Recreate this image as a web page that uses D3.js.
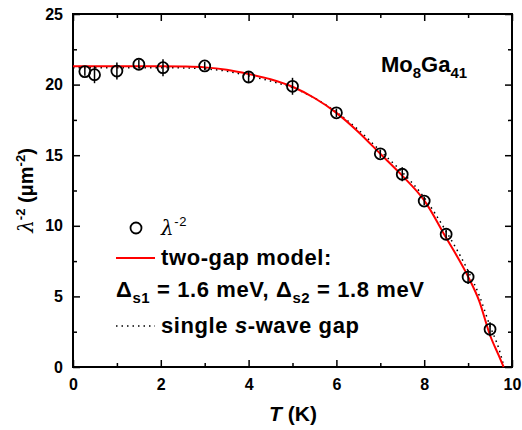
<!DOCTYPE html>
<html>
<head>
<meta charset="utf-8">
<script src="https://cdn.jsdelivr.net/npm/d3@7"></script>
<style>
  body { margin: 0; background: #fff; }
  text { font-family: Arial, "Liberation Sans", sans-serif; font-weight: bold; }
</style>
</head>
<body>
<div id="chart"></div>
<script>
// measured data
const tempK = [0.27, 0.49, 1.0, 1.5, 2.05, 3.0, 4.0, 5.0, 6.0, 7.0, 7.5, 8.0, 8.5, 9.0, 9.5];
const lambdaInv2 = [20.92, 20.7, 20.96, 21.44, 21.2, 21.32, 20.54, 19.88, 18.0, 15.1, 13.65, 11.75, 9.4, 6.37, 2.67];
const errBars = [0.3, 0.6, 0.6, 0.3, 0.6, 0.3, 0.4, 0.6, 0.3, 0.3, 0.5, 0.3, 0.3, 0.5, 0.5];

// two-gap model curve
const twoGapT = [0, 0.5, 1, 1.5, 2, 2.5, 3, 3.5, 4, 4.5, 5, 5.5, 6, 6.5, 7, 7.5, 8, 8.5, 9, 9.25, 9.5, 9.7, 9.81];
const twoGapY = [21.3, 21.3, 21.3, 21.3, 21.3, 21.28, 21.22, 21.05, 20.75, 20.38, 19.85, 19.05, 18.0, 16.65, 15.1, 13.55, 11.8, 9.15, 6.4, 4.7, 2.25, 0.8, 0];

// single s-wave gap curve
const singleT = [0, 0.5, 1, 1.5, 2, 2.5, 3, 3.5, 4, 4.5, 5, 5.5, 6, 6.5, 7, 7.5, 8, 8.5, 9, 9.25, 9.5, 9.7, 9.82];
const singleY = [21.2, 21.2, 21.2, 21.2, 21.2, 21.18, 21.12, 20.95, 20.62, 20.25, 19.78, 19.05, 18.05, 16.8, 15.3, 13.8, 12.0, 9.6, 6.8, 5.1, 2.9, 1.3, 0];

const xTicks = [0, 2, 4, 6, 8, 10];
const yTicks = [0, 5, 10, 15, 20, 25];

const width = 522, height = 430;
const margin = { top: 14, right: 10, bottom: 63, left: 73 };
const w = width - margin.left - margin.right;
const h = height - margin.top - margin.bottom;

const svg = d3.select('#chart').append('svg')
    .attr('width', width)
    .attr('height', height);

const g = svg.append('g')
    .attr('transform', `translate(${margin.left},${margin.top})`);

const x = d3.scaleLinear().domain([0, 10]).range([0, w]);
const y = d3.scaleLinear().domain([0, 25]).range([h, 0]);

const minorX = d3.range(1, 10, 2);
const minorY = d3.range(2.5, 25, 5);

// axes with inward ticks
function styleAxis(sel) {
    sel.select('.domain').remove();
    sel.selectAll('line').attr('stroke', '#000').attr('stroke-width', 1.5);
    sel.selectAll('text').style('font-size', '16px').attr('fill', '#000');
}

g.append('g').attr('transform', `translate(0,${h})`)
    .call(d3.axisBottom(x).tickValues(xTicks).tickSize(-7).tickPadding(12).tickFormat(d3.format('d')))
    .call(styleAxis);
g.append('g').attr('transform', `translate(0,${h})`)
    .call(d3.axisBottom(x).tickValues(minorX).tickSize(-4).tickFormat(''))
    .call(styleAxis);
g.append('g')
    .call(d3.axisTop(x).tickValues(xTicks).tickSize(-7).tickFormat(''))
    .call(styleAxis);
g.append('g')
    .call(d3.axisTop(x).tickValues(minorX).tickSize(-4).tickFormat(''))
    .call(styleAxis);
g.append('g')
    .call(d3.axisLeft(y).tickValues(yTicks).tickSize(-7).tickPadding(10).tickFormat(d3.format('d')))
    .call(styleAxis);
g.append('g')
    .call(d3.axisLeft(y).tickValues(minorY).tickSize(-4).tickFormat(''))
    .call(styleAxis);
g.append('g').attr('transform', `translate(${w},0)`)
    .call(d3.axisRight(y).tickValues(yTicks).tickSize(-7).tickFormat(''))
    .call(styleAxis);
g.append('g').attr('transform', `translate(${w},0)`)
    .call(d3.axisRight(y).tickValues(minorY).tickSize(-4).tickFormat(''))
    .call(styleAxis);

g.append('rect')
    .attr('width', w).attr('height', h)
    .attr('fill', 'none').attr('stroke', '#000').attr('stroke-width', 2);

// curves
const line = d3.line().x(d => x(d[0])).y(d => y(d[1])).curve(d3.curveMonotoneX);

g.append('path')
    .datum(singleT.map((t, i) => [t, singleY[i]]))
    .attr('d', line)
    .attr('fill', 'none').attr('stroke', '#000').attr('stroke-width', 1.5)
    .attr('stroke-dasharray', '1.5,4');

g.append('path')
    .datum(twoGapT.map((t, i) => [t, twoGapY[i]]))
    .attr('d', line)
    .attr('fill', 'none').attr('stroke', '#ff0000').attr('stroke-width', 2);

// data points with error bars
const pts = tempK.map((t, i) => ({ t, v: lambdaInv2[i], e: errBars[i] }));

g.selectAll('.err').data(pts).enter().append('line')
    .attr('x1', d => x(d.t)).attr('x2', d => x(d.t))
    .attr('y1', d => y(d.v - d.e)).attr('y2', d => y(d.v + d.e))
    .attr('stroke', '#000').attr('stroke-width', 1.5);

g.selectAll('.pt').data(pts).enter().append('circle')
    .attr('cx', d => x(d.t)).attr('cy', d => y(d.v))
    .attr('r', 5.5)
    .attr('fill', 'none').attr('stroke', '#000').attr('stroke-width', 1.8);

// axis titles
svg.append('text')
    .attr('x', 293).attr('y', 421)
    .attr('text-anchor', 'middle')
    .style('font-size', '21px')
    .html('<tspan font-style="italic">T</tspan> (K)');

svg.append('text')
    .attr('transform', `translate(33,${margin.top + h / 2}) rotate(-90)`)
    .attr('text-anchor', 'middle')
    .style('font-size', '20px')
    .html('<tspan font-style="italic" font-weight="normal" font-family="DejaVu Serif">λ</tspan><tspan dy="-8" font-size="13px">-2</tspan><tspan dy="8"> (μm</tspan><tspan dy="-8" font-size="13px">-2</tspan><tspan dy="8">)</tspan>');

// compound label
svg.append('text')
    .attr('x', 381).attr('y', 72)
    .style('font-size', '22px')
    .html('Mo<tspan dy="6" font-size="15px">8</tspan><tspan dy="-6">Ga</tspan><tspan dy="6" font-size="15px">41</tspan>');

// legend
const leg = svg.append('g').style('letter-spacing', '0.6px');
leg.append('circle').attr('cx', 136).attr('cy', 228).attr('r', 5.5)
    .attr('fill', 'none').attr('stroke', '#000').attr('stroke-width', 1.8);
leg.append('text').attr('x', 161).attr('y', 235).style('font-size', '20px')
    .html('<tspan font-style="italic" font-weight="normal" font-family="DejaVu Serif">λ</tspan><tspan dy="-9" font-size="13px" font-weight="normal">-2</tspan>');

leg.append('line').attr('x1', 116).attr('x2', 155).attr('y1', 258).attr('y2', 258)
    .attr('stroke', '#ff0000').attr('stroke-width', 2);
leg.append('text').attr('x', 161).attr('y', 265).style('font-size', '22px')
    .text('two-gap model:');

leg.append('text').attr('x', 116).attr('y', 297).style('font-size', '22px')
    .html('Δ<tspan dy="6" font-size="15px">s1</tspan><tspan dy="-6"> = 1.6 meV, Δ</tspan><tspan dy="6" font-size="15px">s2</tspan><tspan dy="-6"> = 1.8 meV</tspan>');

leg.append('line').attr('x1', 116).attr('x2', 155).attr('y1', 326).attr('y2', 326)
    .attr('stroke', '#000').attr('stroke-width', 1.5).attr('stroke-dasharray', '1.5,4');
leg.append('text').attr('x', 161).attr('y', 333).style('font-size', '22px')
    .html('single <tspan font-style="italic">s</tspan>-wave gap');
</script>
</body>
</html>
